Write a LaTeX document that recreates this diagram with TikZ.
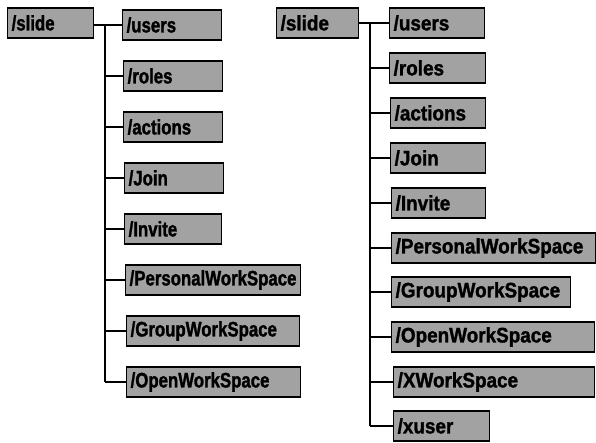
\documentclass[tikz,border=0pt]{standalone}
\usepackage{fontspec}
\setmainfont{Liberation Sans}
\newfontfamily\lnarrow{Liberation Sans}[FakeStretch=0.8, BoldFeatures={FakeBold=1.4}]
\newfontfamily\rnarrow{Liberation Sans}[FakeStretch=0.9, BoldFeatures={FakeBold=1.4}]
\usepackage{tikz}
\usetikzlibrary{positioning, calc}
\usepackage{xcolor}
\definecolor{boxgray}{HTML}{A2A2A2}
\newcommand{\ldirfont}{\lnarrow\fontsize{21}{21}\selectfont\bfseries}
\newcommand{\rdirfont}{\rnarrow\fontsize{21}{21}\selectfont\bfseries}

\begin{document}
\begin{tikzpicture}[
  x=1pt, y=-1pt,
  dirbox/.style={draw, line width=1.3pt, fill=boxgray,
                 anchor=west, minimum height=30pt,
                 inner xsep=4pt, inner ysep=0pt,
                 align=left},
  ldir/.style={dirbox, font=\ldirfont},
  rdir/.style={dirbox, font=\rdirfont},
  tree/.style={line width=1.1pt}
]
  \useasboundingbox (0,0) rectangle (596,442);

  % left tree
  \node[ldir, text width=78pt] (lslide) at (7, 23) {/slide};
  \node[ldir, text width=91pt] (lusers) at (122, 25) {/users};
  \node[ldir, text width=91pt] (lroles) at (123, 76) {/roles};
  \node[ldir, text width=91pt] (lactions) at (123, 127) {/actions};
  \node[ldir, text width=91pt] (ljoin) at (124, 178) {/Join};
  \node[ldir, text width=89pt] (linvite) at (124, 229) {/Invite};
  \node[ldir, text width=167pt] (lpersonal) at (125, 280) {/PersonalWorkSpace};
  \node[ldir, text width=165pt] (lgroup) at (126, 331) {/GroupWorkSpace};
  \node[ldir, text width=166pt] (lopen) at (126, 382) {/OpenWorkSpace};

  \coordinate (ltrunk) at (105, 0);
  \draw[tree] (lslide.east |- lusers.west) -- (lusers.west);
  \draw[tree] (lusers.west -| ltrunk) -- (lopen.west -| ltrunk);
  \draw[tree] (lroles.west -| ltrunk) -- (lroles.west);
  \draw[tree] (lactions.west -| ltrunk) -- (lactions.west);
  \draw[tree] (ljoin.west -| ltrunk) -- (ljoin.west);
  \draw[tree] (linvite.west -| ltrunk) -- (linvite.west);
  \draw[tree] (lpersonal.west -| ltrunk) -- (lpersonal.west);
  \draw[tree] (lgroup.west -| ltrunk) -- (lgroup.west);
  \draw[tree] (lopen.west -| ltrunk) -- (lopen.west);

  % right tree
  \node[rdir, text width=74pt] (rslide) at (276, 23) {/slide};
  \node[rdir, text width=87pt] (rusers) at (389, 23) {/users};
  \node[rdir, text width=88pt] (rroles) at (389, 68) {/roles};
  \node[rdir, text width=87pt] (ractions) at (390, 113) {/actions};
  \node[rdir, text width=87pt] (rjoin) at (390, 158) {/Join};
  \node[rdir, text width=86pt] (rinvite) at (391, 203) {/Invite};
  \node[rdir, text width=196pt] (rpersonal) at (391, 248) {/PersonalWorkSpace};
  \node[rdir, text width=171pt] (rgroup) at (391, 292) {/GroupWorkSpace};
  \node[rdir, text width=195pt] (ropen) at (391, 337) {/OpenWorkSpace};
  \node[rdir, text width=193pt] (rxws) at (393, 382) {/XWorkSpace};
  \node[rdir, text width=88pt] (rxuser) at (393, 426) {/xuser};

  \coordinate (rtrunk) at (370, 0);
  \draw[tree] (rslide.east) -- (rusers.west);
  \draw[tree] (rusers.west -| rtrunk) -- (rxuser.west -| rtrunk);
  \draw[tree] (rroles.west -| rtrunk) -- (rroles.west);
  \draw[tree] (ractions.west -| rtrunk) -- (ractions.west);
  \draw[tree] (rjoin.west -| rtrunk) -- (rjoin.west);
  \draw[tree] (rinvite.west -| rtrunk) -- (rinvite.west);
  \draw[tree] (rpersonal.west -| rtrunk) -- (rpersonal.west);
  \draw[tree] (rgroup.west -| rtrunk) -- (rgroup.west);
  \draw[tree] (ropen.west -| rtrunk) -- (ropen.west);
  \draw[tree] (rxws.west -| rtrunk) -- (rxws.west);
  \draw[tree] (rxuser.west -| rtrunk) -- (rxuser.west);
\end{tikzpicture}
\end{document}
